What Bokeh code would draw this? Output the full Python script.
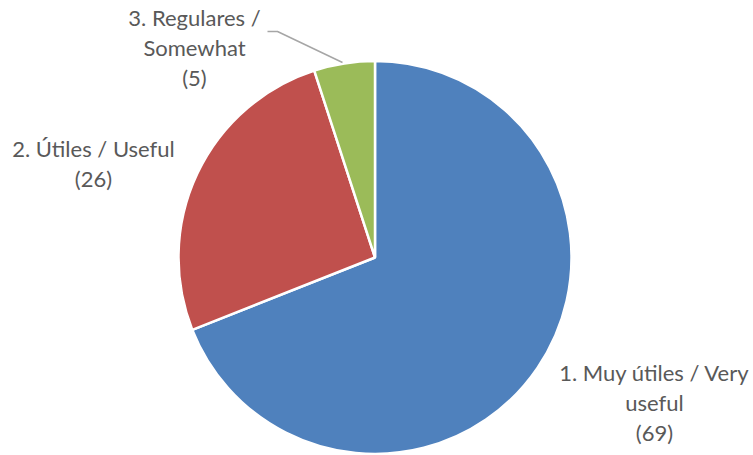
import math
from bokeh.plotting import figure
from bokeh.models import Range1d, ColumnDataSource
from bokeh.core.properties import value
from bokeh.embed import file_html
from bokeh.resources import INLINE

categories = ["1. Muy útiles / Very useful", "2. Útiles / Useful", "3. Regulares / Somewhat"]
wrapped = ["1. Muy útiles / Very\nuseful", "2. Útiles / Useful", "3. Regulares /\nSomewhat"]
values = [69, 26, 5]
colors = ["#4F81BD", "#C0504D", "#9BBB59"]

W, H = 753, 455

def Y(img_y):
    return H - img_y

p = figure(width=W, height=H, output_backend="svg", toolbar_location=None,
           x_range=Range1d(0, W), y_range=Range1d(0, H),
           min_border=0, outline_line_color=None)
p.axis.visible = False
p.grid.visible = False
p.background_fill_color = "white"

total = sum(values)
starts, ends = [], []
a = math.pi / 2
for v in values:
    starts.append(a)
    a -= v / total * 2 * math.pi
    ends.append(a)

cx, cy, r = 374.5, Y(257), 196.5
src = ColumnDataSource(dict(start=starts, end=ends, color=colors))
p.wedge(x=cx, y=cy, radius=r, start_angle="start", end_angle="end", direction="clock",
        fill_color="color", line_color="white", line_width=2.5, source=src)

# leader line for the small slice
p.line([342, 277, 267], [Y(62), Y(31), Y(31)], line_color="#A6A6A6", line_width=1.5)

labels = [f"{w}\n({v})" for w, v in zip(wrapped, values)]
lx = [654, 93, 194]
ly = [Y(402), Y(163), Y(47)]
p.text(x=lx, y=ly, text=labels, text_align="center", text_baseline="middle",
       text_font=value("Lato"), text_font_size="22px", text_color="#595959",
       text_line_height=1.12)

open("out.html", "w").write(file_html(p, INLINE))
